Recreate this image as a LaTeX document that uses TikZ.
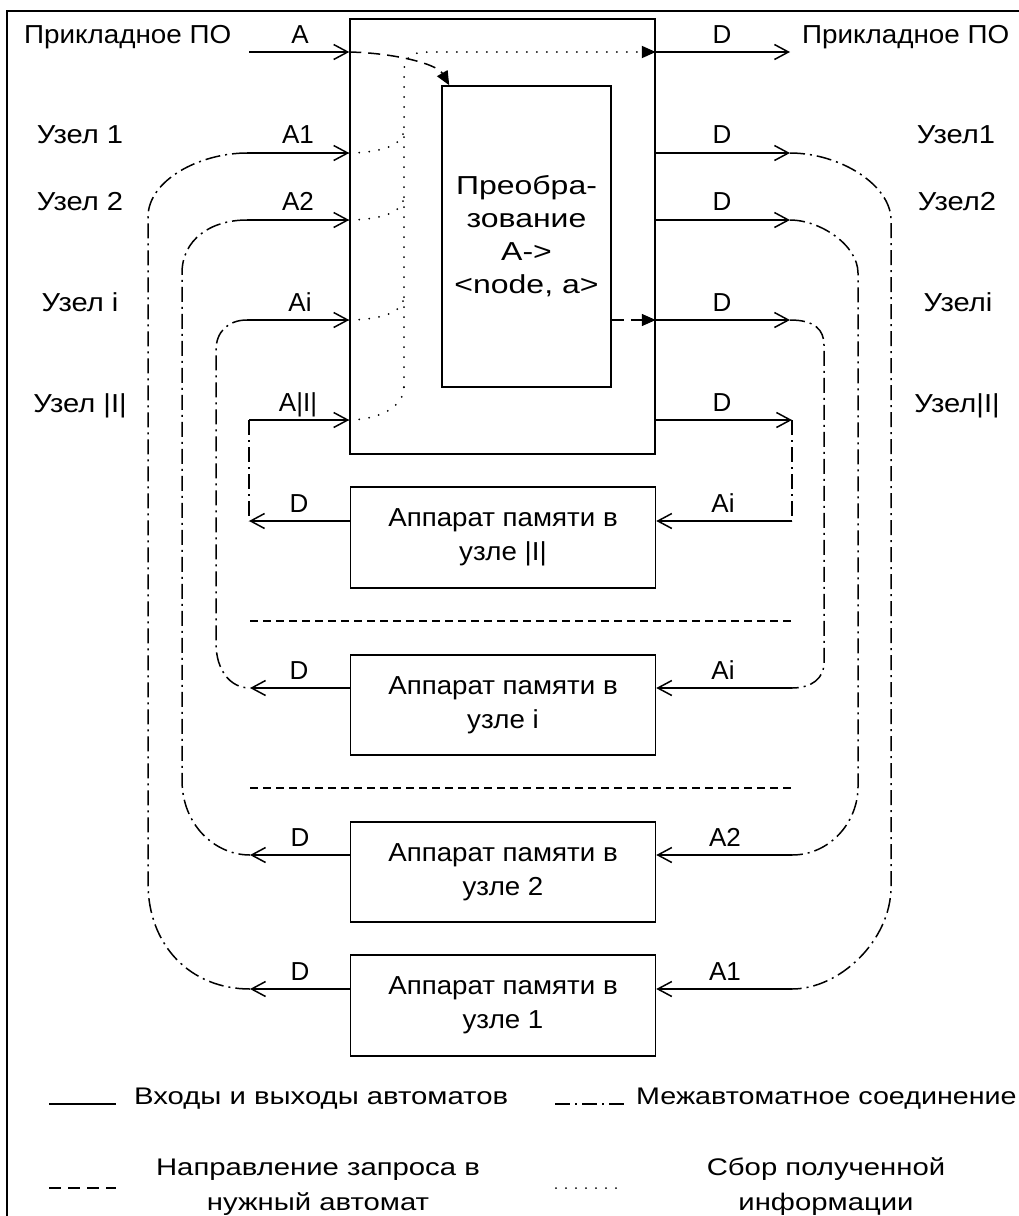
\documentclass[tikz,border=0pt]{standalone}
\usepackage{fontspec}
\setmainfont{Liberation Sans}
\newfontfamily\fLab[FakeStretch=1.07]{Liberation Sans}
\newfontfamily\fNode[FakeStretch=1.12]{Liberation Sans}
\newfontfamily\fBox[FakeStretch=1.065]{Liberation Sans}
\newfontfamily\fConv[FakeStretch=1.23]{Liberation Sans}
\newfontfamily\fLeg[FakeStretch=1.22]{Liberation Sans}
\newfontfamily\fLegB[FakeStretch=1.195]{Liberation Sans}
\usetikzlibrary{arrows.meta,calc}
\begin{document}
\begin{tikzpicture}[x=1pt,y=-1pt,
  every node/.style={font=\fontsize{26}{34}\selectfont, inner sep=0pt},
  lbl/.style={anchor=base},
  sidelbl/.style={anchor=base, font=\fontsize{26}{34}\selectfont\fNode},
  leglbl/.style={anchor=base, font=\fontsize{24}{30}\selectfont\fLeg},
  box/.style={draw, line width=1.5pt, align=center, font=\fontsize{26}{34}\selectfont\fBox},
  ln/.style={line width=1.5pt},
  arr/.style={ln, -{Straight Barb[length=14pt,width=15pt]}},
  ftip/.style={-{Triangle[length=14pt,width=12pt]}},
  conn/.style={line width=1.5pt, dash pattern=on 15pt off 5pt on 2pt off 5pt},
  dots/.style={line width=2pt, line cap=round, dash pattern=on 0pt off 10pt},
  req/.style={line width=1.5pt, dash pattern=on 12pt off 7pt},
  sep/.style={line width=1.5pt, dash pattern=on 8pt off 5pt}]
\useasboundingbox (0,0) rectangle (1019,1216);
\fill[white] (0,0) rectangle (1019,1216);
% frame
\coordinate (frTR) at (1019,11);
\coordinate (frTL) at (7,11);
\coordinate (frBL) at (7,1216);
\draw[ln] (frTR) -- (frTL) -- (frBL);

% boxes
\node[box, minimum width=305pt, minimum height=435pt] (main) at (502.5,236.5) {};
\node[box, minimum width=169pt, minimum height=301pt, font=\fontsize{26}{33}\selectfont\fConv] (conv) at (526.5,236.5) {Преобра-\\зование\\А->\\<node, a>};
\node[box, minimum width=305pt, minimum height=101pt] (mI) at (503,537.5) {Аппарат памяти в\\узле |I|};
\node[box, minimum width=305pt, minimum height=100pt] (mi) at (503,705) {Аппарат памяти в\\узле i};
\node[box, minimum width=305pt, minimum height=100pt] (m2) at (503,872) {Аппарат памяти в\\узле 2};
\node[box, minimum width=305pt, minimum height=101pt] (m1) at (503,1005.5) {Аппарат памяти в\\узле 1};

% port coordinates
\coordinate (sA) at (249,52);
\coordinate (sA1) at (247,153);
\coordinate (sA2) at (247,220);
\coordinate (sAi) at (247,320);
\coordinate (sAI) at (249,420);
\coordinate (eD0) at (790,52);
\coordinate (eD1) at (790,153);
\coordinate (eD2) at (790,220);
\coordinate (eDi) at (790,320);
\coordinate (eDI) at (792,420);
\coordinate (tI) at (249,521);
\coordinate (ti) at (250,688);
\coordinate (t2) at (250,855);
\coordinate (t1) at (250,989);
\coordinate (rI) at (792,521);
\coordinate (ri) at (792,688);
\coordinate (r2) at (792,855);
\coordinate (r1) at (792,989);

% left labels
\node[anchor=base west, font=\fontsize{26}{34}\selectfont\fLab] (lp) at (24,43) {Прикладное ПО};
\node[sidelbl] (l1) at (80,143) {Узел 1};
\node[sidelbl] (l2) at (80,210) {Узел 2};
\node[sidelbl] (li) at (80,311) {Узел i};
\node[sidelbl] (lI) at (80,412) {Узел |I|};
% right labels
\node[anchor=base west, font=\fontsize{26}{34}\selectfont\fLab] (rp) at (802,43) {Прикладное ПО};
\node[sidelbl] (r1l) at (956,143) {Узел1};
\node[sidelbl] (r2l) at (957,210) {Узел2};
\node[sidelbl] (ril) at (958,311) {Узелi};
\node[sidelbl] (rIl) at (957,412) {Узел|I|};
% arrow labels
\node[lbl] (aA) at (300,43) {A};
\node[lbl] (aA1) at (298,143) {A1};
\node[lbl] (aA2) at (298,210) {A2};
\node[lbl] (aAi) at (300,311) {Ai};
\node[lbl] (aAI) at (298,411) {A|I|};
\node[lbl] (dD0) at (722,43) {D};
\node[lbl] (dD1) at (722,143) {D};
\node[lbl] (dD2) at (722,210) {D};
\node[lbl] (dDi) at (722,311) {D};
\node[lbl] (dDI) at (722,411) {D};
\node[lbl] (mID) at (299,512) {D};
\node[lbl] (mIA) at (723,512) {Ai};
\node[lbl] (miD) at (299,679) {D};
\node[lbl] (miA) at (723,679) {Ai};
\node[lbl] (m2D) at (300,846) {D};
\node[lbl] (m2A) at (725,846) {A2};
\node[lbl] (m1D) at (300,980) {D};
\node[lbl] (m1A) at (725,980) {A1};

% inputs
\foreach \p in {sA,sA1,sA2,sAi,sAI} \draw[arr] (\p) -- (main.west |- \p);
% outputs
\foreach \p in {eD0,eD1,eD2,eDi,eDI} \draw[arr] (main.east |- \p) -- (\p);
% memory boxes
\draw[arr] (mI.west |- tI) -- (tI);
\draw[arr] (rI) -- (mI.east |- rI);
\draw[arr] (mi.west |- ti) -- (ti);
\draw[arr] (ri) -- (mi.east |- ri);
\draw[arr] (m2.west |- t2) -- (t2);
\draw[arr] (r2) -- (m2.east |- r2);
\draw[arr] (m1.west |- t1) -- (t1);
\draw[arr] (r1) -- (m1.east |- r1);

% inter-automaton connections
\draw[conn] (sA1) .. controls (200,153) and (148,180) .. (148,217) -- (148,883) .. controls (148,945) and (190,989) .. (t1);
\draw[conn] (sA2) .. controls (210,220) and (182,240) .. (182,273) -- (182,780) .. controls (182,825) and (215,855) .. (t2);
\draw[conn] (sAi) .. controls (228,320) and (216,332) .. (216,350) -- (216,643) .. controls (216,670) and (230,688) .. (ti);
\draw[conn] (sAI) -- (tI);
\draw[conn] (eD1) .. controls (840,153) and (891,185) .. (891,220) -- (891,887) .. controls (891,940) and (840,989) .. (r1);
\draw[conn] (eD2) .. controls (820,220) and (858,245) .. (858,273) -- (858,787) .. controls (858,822) and (830,855) .. (r2);
\draw[conn] (eDi) .. controls (815,320) and (824,330) .. (824,345) -- (824,663) .. controls (824,678) and (812,688) .. (ri);
\draw[conn] (eDI) -- (rI);

% separators
\coordinate (s1a) at (250,621); \coordinate (s1b) at (795,621);
\coordinate (s2a) at (250,788); \coordinate (s2b) at (795,788);
\draw[sep] (s1a) -- (s1b);
\draw[sep] (s2a) -- (s2b);

% collection (dotted)
\coordinate (col) at (404,387);
\draw[dots] (main.west |- sA1) .. controls (385,152) and (404,145) .. (404,128);
\draw[dots] (main.west |- sA2) .. controls (385,219) and (404,212) .. (404,195);
\draw[dots] (main.west |- sAi) .. controls (385,319) and (404,312) .. (404,295);
\draw[dots] (main.west |- sAI) .. controls (385,419) and (404,404) .. (col);
\draw[dots, ftip] (col) -- (404,70) .. controls (404,58) and (412,52) .. (427,52) -- (main.east |- sA);

% request (dashed)
\draw[req, ftip] (main.west |- sA) .. controls (395,53) and (437,64) .. ($(conv.north west)+(8,0)$);
\draw[req, ftip] (conv.east |- eDi) -- (main.east |- eDi);

% legend
\coordinate (lg1a) at (49,1104); \coordinate (lg1b) at (116,1104);
\coordinate (lg2a) at (555,1104); \coordinate (lg2b) at (627,1104);
\coordinate (lg3a) at (49,1188); \coordinate (lg3b) at (116,1188);
\coordinate (lg4a) at (556,1188); \coordinate (lg4b) at (619,1188);
\draw[ln] (lg1a) -- (lg1b);
\draw[conn] (lg2a) -- (lg2b);
\draw[req] (lg3a) -- (lg3b);
\draw[dots] (lg4a) -- (lg4b);
\node[leglbl, anchor=base west] (lt1) at (134,1104) {Входы и выходы автоматов};
\node[leglbl, anchor=base west, font=\fontsize{24}{30}\selectfont\fLegB] (lt2) at (636,1104) {Межавтоматное соединение};
\node[leglbl] (lt3a) at (318,1175) {Направление запроса в};
\node[leglbl] (lt3b) at (318,1210) {нужный автомат};
\node[leglbl] (lt4a) at (826,1175) {Сбор полученной};
\node[leglbl] (lt4b) at (826,1210) {информации};
\end{tikzpicture}
\end{document}
